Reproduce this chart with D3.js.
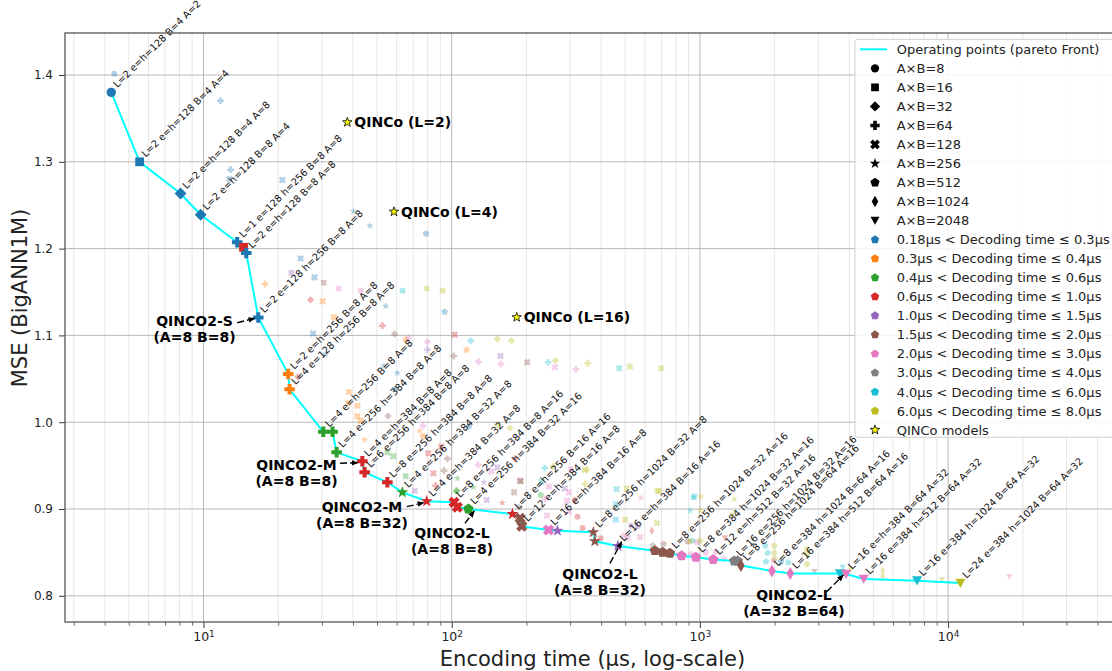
<!DOCTYPE html>
<html>
<head>
<meta charset="utf-8">
<script src="https://cdn.jsdelivr.net/npm/d3@7"></script>
<style>
  body { margin: 0; background: #fff; }
  svg { font-family: "DejaVu Sans", sans-serif; }
</style>
</head>
<body>
<svg id="chart" width="1112" height="671"></svg>
<script>
// tab10 colours, one per decoding-time bin
var binColors = ["#1f77b4", "#ff7f0e", "#2ca02c", "#d62728", "#9467bd",
  "#8c564b", "#e377c2", "#7f7f7f", "#17becf", "#bcbd22"];
var binLabels = [
  "0.18µs < Decoding time ≤ 0.3µs", "0.3µs < Decoding time ≤ 0.4µs",
  "0.4µs < Decoding time ≤ 0.6µs", "0.6µs < Decoding time ≤ 1.0µs",
  "1.0µs < Decoding time ≤ 1.5µs", "1.5µs < Decoding time ≤ 2.0µs",
  "2.0µs < Decoding time ≤ 3.0µs", "3.0µs < Decoding time ≤ 4.0µs",
  "4.0µs < Decoding time ≤ 6.0µs", "6.0µs < Decoding time ≤ 8.0µs"];
var abValues = [8, 16, 32, 64, 128, 256, 512, 1024, 2048];
var yTicks = [0.8, 0.9, 1.0, 1.1, 1.2, 1.3, 1.4];
var xTicks = [10, 100, 1000, 10000];

// pareto front: [encoding time µs, MSE, A×B, decoding bin, label]
var pareto = [
  [4.25, 1.380, 8, 0, "L=2 e=h=128 B=4 A=2"],
  [5.53, 1.300, 16, 0, "L=2 e=h=128 B=4 A=4"],
  [8.08, 1.2635, 32, 0, "L=2 e=h=128 B=4 A=8"],
  [9.74, 1.239, 32, 0, "L=2 e=h=128 B=8 A=4"],
  [13.67, 1.2073, 64, 0, "L=1 e=128 h=256 B=8 A=8"],
  [14.5, 1.2015, 16, 3, ""],
  [14.87, 1.195, 64, 0, "L=2 e=h=128 B=8 A=8"],
  [16.62, 1.1206, 64, 0, "L=2 e=128 h=256 B=8 A=8"],
  [21.95, 1.0555, 64, 1, "L=2 e=h=256 B=8 A=8"],
  [22.22, 1.0379, 64, 1, "L=4 e=128 h=256 B=8 A=8"],
  [30.39, 0.989, 64, 2, "L=4 e=h=256 B=8 A=8"],
  [33.12, 0.989, 64, 2, ""],
  [34.38, 0.9653, 64, 2, "L=4 e=256 h=384 B=8 A=8"],
  [43.64, 0.955, 64, 3, "L=4 e=h=384 B=8 A=8"],
  [44.59, 0.9423, 64, 3, "L=6 e=256 h=384 B=8 A=8"],
  [55.05, 0.9308, 64, 3, "L=8 e=256 h=384 B=8 A=8"],
  [63.28, 0.9192, 256, 2, "L=4 e=256 h=384 B=32 A=8"],
  [79.29, 0.9089, 256, 3, "L=4 e=h=384 B=32 A=8"],
  [102.2, 0.9077, 128, 3, "L=8 e=256 h=384 B=8 A=16"],
  [105.4, 0.902, 128, 3, ""],
  [116.8, 0.900, 512, 2, "L=4 e=256 h=384 B=32 A=16"],
  [175.7, 0.8942, 256, 3, "L=8 e=h=256 B=16 A=16"],
  [188.6, 0.8893, 128, 5, ""],
  [191.6, 0.8801, 128, 5, "L=12 e=h=384 B=16 A=8"],
  [245.5, 0.8758, 128, 6, "L=16 e=h=384 B=16 A=8"],
  [266.8, 0.875, 256, 4, ""],
  [372.1, 0.8732, 256, 5, "L=8 e=256 h=1024 B=32 A=8"],
  [377.3, 0.8628, 256, 5, ""],
  [467.0, 0.8574, 256, 4, "L=16 e=h=384 B=16 A=16"],
  [658.5, 0.852, 512, 5, ""],
  [707.4, 0.8501, 512, 5, ""],
  [756.8, 0.849, 512, 5, "L=8 e=256 h=1024 B=32 A=16"],
  [843.7, 0.8462, 512, 6, ""],
  [963.6, 0.8444, 512, 6, "L=8 e=384 h=1024 B=32 A=16"],
  [1131.6, 0.8418, 512, 6, "L=12 e=h=512 B=32 A=16"],
  [1375, 0.8401, 512, 7, "L=16 e=256 h=1024 B=32 A=16"],
  [1419, 0.8401, 512, 7, ""],
  [1463, 0.8349, 1024, 5, "L=8 e=256 h=1024 B=64 A=16"],
  [1951, 0.8286, 1024, 6, "L=8 e=384 h=1024 B=64 A=16"],
  [2313, 0.8257, 1024, 6, "L=16 e=384 h=512 B=64 A=16"],
  [3668, 0.8256, 2048, 8, ""],
  [3879, 0.825, 2048, 6, "L=16 e=h=384 B=64 A=32"],
  [4571, 0.8194, 2048, 6, "L=16 e=384 h=512 B=64 A=32"],
  [7499, 0.8174, 2048, 8, "L=16 e=384 h=1024 B=64 A=32"],
  [11209, 0.8147, 2048, 9, "L=24 e=384 h=1024 B=64 A=32"]
];

// other (dominated) configurations: [time, MSE, A×B, bin]
var others = [
  [4.37, 1.4015, 8, 0], [11.7, 1.3704, 64, 0], [12.85, 1.2909, 64, 0], [12.7, 1.2802, 128, 0],
  [20.8, 1.279, 128, 0], [40.2, 1.243, 256, 0], [46.8, 1.2264, 256, 0], [78.8, 1.2172, 512, 0],
  [24.6, 1.1886, 128, 0], [22.6, 1.1722, 16, 4], [28.0, 1.1669, 128, 0], [30.5, 1.1607, 16, 5],
  [35.0, 1.154, 16, 6], [43.0, 1.1515, 16, 6], [63.4, 1.1515, 16, 8], [79.2, 1.154, 16, 9],
  [92.0, 1.1515, 16, 9], [17.7, 1.1592, 64, 1], [27.0, 1.1411, 32, 3], [30.2, 1.1393, 128, 1],
  [54.2, 1.1339, 256, 0], [93.7, 1.127, 512, 0], [33.5, 1.1209, 128, 1], [52.6, 1.1112, 64, 3],
  [27.6, 1.1022, 128, 0], [58.9, 1.1016, 32, 5], [65.3, 1.095, 512, 1], [67.1, 1.097, 32, 6],
  [79.8, 1.0927, 32, 6], [79.8, 1.0835, 64, 4], [102.8, 1.1008, 128, 3], [119.3, 1.0939, 32, 8],
  [152.8, 1.0959, 32, 9], [174.1, 1.0939, 32, 9], [114.8, 1.0832, 512, 1], [102, 1.0763, 64, 5],
  [157.2, 1.0763, 128, 4], [128.2, 1.0697, 64, 6], [157.8, 1.0671, 64, 6], [201.4, 1.069, 128, 5],
  [244.5, 1.069, 64, 8], [261.8, 1.0709, 64, 9], [260.1, 1.0632, 128, 6], [316.4, 1.061, 64, 6],
  [353.2, 1.0679, 64, 9], [472.8, 1.0621, 128, 8], [522.8, 1.064, 128, 9], [698.5, 1.0621, 128, 9],
  [31.0, 1.0786, 256, 0], [53.3, 1.0651, 256, 0], [60.4, 1.0567, 256, 0], [24.0, 1.0524, 32, 3],
  [58.9, 1.0383, 8, 0], [38.5, 1.0348, 128, 1], [38.3, 1.0221, 128, 1], [41.7, 1.019, 128, 1],
  [41.7, 1.0068, 128, 1], [43.0, 1.0017, 128, 1], [55.4, 1.0071, 32, 5], [76.6, 0.996, 32, 6],
  [74.3, 0.9899, 256, 1], [76.6, 0.9838, 8, 1], [152.8, 0.9971, 32, 9], [171.8, 0.9933, 32, 9],
  [117.4, 0.9953, 8, 0], [44.6, 0.9798, 256, 1], [55.1, 0.9653, 128, 2], [58.2, 0.9607, 128, 2],
  [65.3, 0.9377, 128, 2], [90.8, 0.9718, 128, 3], [80.5, 0.9642, 128, 3], [96.1, 0.958, 64, 5],
  [84.4, 0.9411, 128, 3], [93.1, 0.9442, 64, 5], [127.6, 0.951, 64, 6], [152.8, 0.948, 128, 4],
  [144.5, 0.943, 128, 6], [180.0, 0.958, 64, 3], [189.6, 0.9319, 128, 5], [237.2, 0.9472, 64, 8],
  [256.2, 0.9492, 64, 9], [301.9, 0.9457, 128, 6], [344.7, 0.9288, 64, 9], [350.3, 0.9453, 64, 9],
  [461.5, 0.923, 128, 8], [506.3, 0.9238, 128, 9], [675, 0.9211, 128, 9], [948, 0.9142, 128, 8],
  [104.7, 0.9211, 64, 2], [86.2, 0.9268, 64, 3], [71.0, 0.9211, 128, 4], [104.7, 0.9204, 8, 2],
  [122.4, 0.925, 256, 2], [134.9, 0.9308, 256, 4], [178.3, 0.9192, 128, 5], [160, 0.9069, 256, 3],
  [105.4, 0.9354, 256, 2], [138.3, 0.9104, 128, 4], [188.4, 0.9326, 128, 5], [186.7, 0.902, 512, 7],
  [230.1, 0.9315, 128, 8], [246.7, 0.9257, 128, 6], [285.5, 0.9238, 128, 4], [297.2, 0.9192, 128, 6],
  [228.6, 0.9161, 8, 2], [237.8, 0.9115, 64, 6], [241.8, 0.8923, 128, 6], [290.9, 0.9096, 128, 6],
  [297.2, 0.8969, 128, 6], [313.3, 0.9104, 8, 3], [321.4, 0.8911, 8, 3], [336.6, 0.8781, 8, 3],
  [343.7, 0.945, 128, 9], [398.9, 0.8663, 8, 3], [458.3, 0.9058, 128, 8], [500, 0.8877, 128, 9],
  [458.3, 0.8877, 128, 8], [527.6, 0.8808, 8, 4], [492.3, 0.8693, 256, 6], [574.4, 0.8675, 128, 6],
  [510.6, 0.8667, 128, 6], [640, 0.875, 1024, 3], [670.7, 0.8839, 128, 9], [685.5, 0.9204, 128, 9],
  [645.7, 0.8578, 512, 7], [714, 0.8597, 512, 5], [578.1, 0.9127, 256, 6], [561.6, 0.8808, 128, 4],
  [943, 0.9135, 256, 8], [1009, 0.9142, 256, 9], [1375, 0.9115, 256, 9], [914, 0.8981, 256, 8],
  [1002, 0.8989, 256, 9], [1355, 0.8942, 256, 9], [934.6, 0.8635, 512, 8], [1002, 0.8635, 512, 9],
  [973, 0.8616, 512, 6], [1261, 0.8667, 2048, 3], [1833, 0.8578, 512, 8], [1994, 0.8578, 512, 9],
  [1875, 0.8493, 512, 8], [1994, 0.8493, 512, 9], [1845, 0.8393, 512, 8], [1994, 0.8424, 512, 9],
  [2121, 0.8393, 512, 0], [2270, 0.8386, 512, 8], [2698, 0.8539, 512, 9], [2698, 0.8482, 512, 9],
  [2698, 0.8366, 512, 9], [2891, 0.8278, 2048, 5], [3762, 0.8328, 2048, 8], [4064, 0.8309, 1024, 9],
  [5453, 0.8289, 1024, 9], [5453, 0.8225, 1024, 9], [9433, 0.8186, 2048, 9], [17660, 0.822, 2048, 6],
  [920, 0.8482, 512, 6], [1057, 0.8501, 512, 6], [1160, 0.8508, 512, 6], [1246, 0.8424, 512, 6],
  [1982, 0.8404, 512, 6], [891, 0.8628, 512, 5], [914, 0.8628, 512, 9]
];

// QINCo baselines: [time, MSE, name]
var qinco = [
  [37.97, 1.3455, "QINCo (L=2)"],
  [58.55, 1.2425, "QINCo (L=4)"],
  [182.8, 1.1209, "QINCo (L=16)"]
];

// callouts: text centre, arrow start, arrow end (data coords)
var callouts = [
  { lines: ["QINCO2-S", "(A=8 B=8)"], t: [9.2, 1.1074], s: [13.68, 1.1146], e: [16.1, 1.1197] },
  { lines: ["QINCO2-M", "(A=8 B=8)"], t: [23.7, 0.9415], s: [35.5, 0.9527], e: [41.9, 0.9533] },
  { lines: ["QINCO2-M", "(A=8 B=32)"], t: [43.5, 0.8931], s: [65.9, 0.9027], e: [77.3, 0.9073] },
  { lines: ["QINCO2-L", "(A=8 B=8)"], t: [100.3, 0.8631], s: [113.1, 0.8835], e: [123.3, 0.8977] },
  { lines: ["QINCO2-L", "(A=8 B=32)"], t: [395.9, 0.8163], s: [434.3, 0.8374], e: [484, 0.8623] },
  { lines: ["QINCO2-L", "(A=32 B=64)"], t: [2393, 0.7919], s: [3243, 0.8047], e: [3785, 0.824] }
];

var plot = { left: 65, right: 1120, top: 33, bottom: 622 };

var x = d3.scaleLog().domain([10, 10000]).range([203.5, 948.1]);
var y = d3.scaleLinear().domain([0.8, 1.4]).range([595.8, 75]);

var svg = d3.select("#chart");

// marker shapes, matplotlib-like, k = scale factor
function markerPath(ab, k) {
  var r, a, p = [];
  function poly(pts) { return "M" + pts.map(function (q) { return q[0].toFixed(2) + "," + q[1].toFixed(2); }).join("L") + "Z"; }
  if (ab == 8) { r = 4.7 * k; return d3.symbol(d3.symbolCircle, Math.PI * r * r)(); }
  if (ab == 16) { r = 4.4 * k; return poly([[-r, -r], [r, -r], [r, r], [-r, r]]); }
  if (ab == 32) { r = 5.9 * k; return poly([[0, -r], [r, 0], [0, r], [-r, 0]]); }
  if (ab == 64 || ab == 128) {
    r = (ab == 64 ? 5.3 : 5.7) * k; a = r * 0.38;
    p = [[-a, -r], [a, -r], [a, -a], [r, -a], [r, a], [a, a], [a, r], [-a, r], [-a, a], [-r, a], [-r, -a], [-a, -a]];
    if (ab == 128) p = p.map(function (q) { return [(q[0] - q[1]) / Math.SQRT2, (q[0] + q[1]) / Math.SQRT2]; });
    return poly(p);
  }
  if (ab == 256) {
    r = 6.3 * k;
    for (var i = 0; i < 10; i++) {
      var rr = i % 2 ? r * 0.4 : r, an = -Math.PI / 2 + i * Math.PI / 5;
      p.push([rr * Math.cos(an), rr * Math.sin(an)]);
    }
    return poly(p);
  }
  if (ab == 512) {
    r = 5.5 * k;
    for (var j = 0; j < 5; j++) {
      var an2 = -Math.PI / 2 + j * 2 * Math.PI / 5;
      p.push([r * Math.cos(an2), r * Math.sin(an2)]);
    }
    return poly(p);
  }
  if (ab == 1024) { r = 6.5 * k; return poly([[0, -r], [r * 0.58, 0], [0, r], [-r * 0.58, 0]]); }
  r = 5.1 * k;
  return poly([[0, r * 0.95], [-r, -r * 0.85], [r, -r * 0.85]]);
}

svg.append("defs").append("clipPath").attr("id", "clip")
  .append("rect").attr("x", plot.left).attr("y", plot.top)
  .attr("width", plot.right - plot.left).attr("height", plot.bottom - plot.top);

svg.append("defs").append("marker").attr("id", "head")
  .attr("viewBox", "0 0 10 10").attr("refX", 9).attr("refY", 5)
  .attr("markerWidth", 5).attr("markerHeight", 5).attr("orient", "auto")
  .append("path").attr("d", "M0,1L10,5L0,9Z").attr("fill", "#000");

// grid
var minorX = [];
[1, 10, 100, 1000, 10000].forEach(function (d) {
  for (var m = 2; m <= 9; m++) minorX.push(d * m);
});
minorX = minorX.filter(function (v) { return x(v) > plot.left && x(v) < plot.right; });

var grid = svg.append("g");
grid.selectAll(".gx-minor").data(minorX).enter().append("line")
  .attr("x1", x).attr("x2", x).attr("y1", plot.top).attr("y2", plot.bottom)
  .attr("stroke", "#e4e4e4").attr("stroke-width", 0.9);
grid.selectAll(".gx").data(xTicks).enter().append("line")
  .attr("x1", x).attr("x2", x).attr("y1", plot.top).attr("y2", plot.bottom)
  .attr("stroke", "#b8b8b8").attr("stroke-width", 1);
grid.selectAll(".gy").data(yTicks).enter().append("line")
  .attr("x1", plot.left).attr("x2", plot.right).attr("y1", y).attr("y2", y)
  .attr("stroke", "#b8b8b8").attr("stroke-width", 1);

var marks = svg.append("g").attr("clip-path", "url(#clip)");

// dominated configurations, faint
marks.selectAll(".other").data(others).enter().append("path")
  .attr("d", function (d) { return markerPath(d[2], 0.64); })
  .attr("transform", function (d) { return "translate(" + x(d[0]) + "," + y(d[1]) + ")"; })
  .attr("fill", function (d) { return binColors[d[3]]; })
  .attr("fill-opacity", 0.35);

// pareto front line
marks.append("path").datum(pareto)
  .attr("d", d3.line().x(function (d) { return x(d[0]); }).y(function (d) { return y(d[1]); }))
  .attr("fill", "none").attr("stroke", "#00ffff").attr("stroke-width", 2);

marks.selectAll(".pp").data(pareto).enter().append("path")
  .attr("d", function (d) { return markerPath(d[2], 1); })
  .attr("transform", function (d) { return "translate(" + x(d[0]) + "," + y(d[1]) + ")"; })
  .attr("fill", function (d) { return binColors[d[3]]; });

// config labels, rotated 45°
svg.append("g").selectAll("text")
  .data(pareto.filter(function (d) { return d[4] !== ""; }))
  .enter().append("text")
  .attr("transform", function (d) { return "translate(" + (x(d[0]) + 6) + "," + (y(d[1]) - 4) + ") rotate(-45)"; })
  .attr("font-size", "9.8px").attr("fill", "#111")
  .text(function (d) { return d[4]; });

// QINCo baselines
var qg = svg.append("g");
qg.selectAll("path").data(qinco).enter().append("path")
  .attr("d", markerPath(256, 0.78))
  .attr("transform", function (d) { return "translate(" + x(d[0]) + "," + y(d[1]) + ")"; })
  .attr("fill", "#ffff00").attr("stroke", "#000").attr("stroke-width", 0.8);
qg.selectAll("text").data(qinco).enter().append("text")
  .attr("x", function (d) { return x(d[0]) + 7; })
  .attr("y", function (d) { return y(d[1]); })
  .attr("dy", "0.36em").attr("font-size", "14px").attr("font-weight", "bold")
  .text(function (d) { return d[2]; });

// callouts
var cg = svg.append("g");
callouts.forEach(function (c) {
  cg.append("line")
    .attr("x1", x(c.s[0])).attr("y1", y(c.s[1]))
    .attr("x2", x(c.e[0])).attr("y2", y(c.e[1]))
    .attr("stroke", "#000").attr("stroke-width", 1.4)
    .attr("stroke-dasharray", "7,3").attr("marker-end", "url(#head)");
  c.lines.forEach(function (l, i) {
    cg.append("text")
      .attr("x", x(c.t[0])).attr("y", y(c.t[1]) + (i - 0.5) * 16)
      .attr("dy", "0.36em").attr("text-anchor", "middle")
      .attr("font-size", "14px").attr("font-weight", "bold")
      .text(l);
  });
});

// axes
var xAxis = svg.append("g").attr("transform", "translate(0," + plot.bottom + ")");
xAxis.call(d3.axisBottom(x).tickValues(minorX).tickSize(3.5).tickFormat(""))
  .call(function (g) { g.select(".domain").remove(); g.selectAll("line").attr("stroke", "#222").attr("stroke-width", 0.7); });
var xMajor = svg.append("g").attr("transform", "translate(0," + plot.bottom + ")")
  .call(d3.axisBottom(x).tickValues(xTicks).tickSize(6).tickFormat(""));
xMajor.select(".domain").remove();
xMajor.selectAll("line").attr("stroke", "#222").attr("stroke-width", 0.9);
xMajor.selectAll(".tick").append("text")
  .attr("y", 19).attr("fill", "#222").attr("font-size", "12.5px").attr("text-anchor", "middle")
  .attr("font-family", "DejaVu Sans")
  .each(function (d) {
    var t = d3.select(this);
    t.append("tspan").text("10");
    t.append("tspan").attr("dy", "-0.5em").attr("font-size", "9px").text(Math.round(Math.log10(d)));
  });

var yAxis = svg.append("g").attr("transform", "translate(" + plot.left + ",0)")
  .call(d3.axisLeft(y).tickValues(yTicks).tickSize(6).tickPadding(6).tickFormat(d3.format(".1f")));
yAxis.select(".domain").remove();
yAxis.selectAll("line").attr("stroke", "#222").attr("stroke-width", 0.9);
yAxis.selectAll("text").attr("font-size", "12px").attr("fill", "#222")
  .attr("font-family", "DejaVu Sans");

// frame
svg.append("rect").attr("x", plot.left).attr("y", plot.top)
  .attr("width", plot.right - plot.left).attr("height", plot.bottom - plot.top)
  .attr("fill", "none").attr("stroke", "#555").attr("stroke-width", 1.3);

svg.append("text").attr("x", (plot.left + plot.right) / 2).attr("y", 658)
  .attr("dy", "0.36em").attr("text-anchor", "middle").attr("font-size", "21px").attr("fill", "#222")
  .text("Encoding time (µs, log-scale)");
svg.append("text").attr("transform", "translate(19,298) rotate(-90)")
  .attr("dy", "0.36em").attr("text-anchor", "middle").attr("font-size", "21px").attr("fill", "#222")
  .text("MSE (BigANN1M)");

// legend
var lg = svg.append("g");
lg.append("rect").attr("x", 855).attr("y", 39.3).attr("width", 280).attr("height", 398)
  .attr("rx", 3).attr("fill", "#fff").attr("fill-opacity", 0.85)
  .attr("stroke", "#d0d0d0").attr("stroke-width", 1);
var rowY = function (i) { return 49.3 + i * 19.03; };
var legendRows = [{ kind: "line", label: "Operating points (pareto Front)" }]
  .concat(abValues.map(function (v) { return { kind: "ab", ab: v, label: "A×B=" + v }; }))
  .concat(binLabels.map(function (l, i) { return { kind: "bin", bin: i, label: l }; }))
  .concat([{ kind: "qinco", label: "QINCo models" }]);
legendRows.forEach(function (r, i) {
  var yy = rowY(i);
  if (r.kind == "line") {
    lg.append("line").attr("x1", 860).attr("x2", 887).attr("y1", yy).attr("y2", yy)
      .attr("stroke", "#00ffff").attr("stroke-width", 2);
  } else {
    var m = lg.append("path").attr("transform", "translate(875," + yy + ")");
    if (r.kind == "ab") m.attr("d", markerPath(r.ab, 0.88)).attr("fill", "#000");
    if (r.kind == "bin") m.attr("d", markerPath(512, 0.8)).attr("fill", binColors[r.bin]);
    if (r.kind == "qinco") m.attr("d", markerPath(256, 0.8)).attr("fill", "#ffff00")
      .attr("stroke", "#000").attr("stroke-width", 0.8);
  }
  lg.append("text").attr("x", 896.7).attr("y", yy).attr("dy", "0.36em")
    .attr("font-size", "13px").attr("fill", "#222").text(r.label);
});
</script>
</body>
</html>
